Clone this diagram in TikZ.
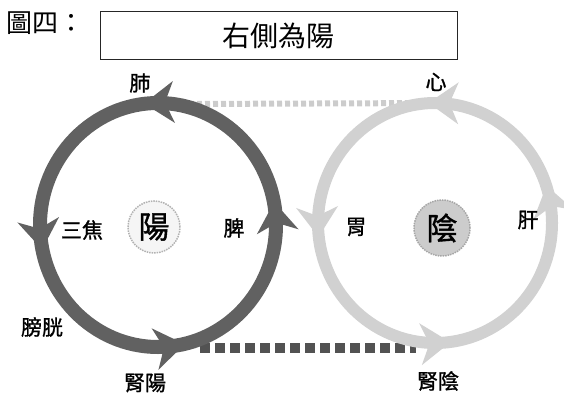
\documentclass[tikz,border=0pt]{standalone}
\usepackage{fontspec}
\newfontfamily\cjk{Noto Sans CJK TC}
\newfontfamily\cjkb{Noto Sans CJK TC}[FakeBold=1.2]
\usetikzlibrary{positioning, calc, arrows.meta, decorations.markings}
\tikzset{>=latex}
\tikzset{ringtip/.pic={\path[pic actions] (8,0) -- (-22,21) -- (-13,0) -- (-22,-21) -- cycle;}}

\begin{document}
\begin{tikzpicture}
    [
        x=1pt, y=1pt,
        organ/.style={font=\cjkb\fontsize{21}{21}\selectfont, inner sep=0pt},
        core/.style={circle, font=\cjkb\fontsize{31}{31}\selectfont, inner sep=0pt, minimum size=52pt},
        title_box/.style={draw=black!85, line width=1pt, minimum width=357pt, minimum height=48pt, font=\cjk\fontsize{28}{28}\selectfont},
        yang_tip/.style={fill=black!62, transform shape},
        yin_tip/.style={fill=black!18, transform shape},
        yang_ring/.style={line width=14pt, draw=black!62, postaction={decorate},
            decoration={markings,
                mark=at position 0.02 with {\pic[yang_tip]{ringtip};},
                mark=at position 0.258 with {\pic[yang_tip]{ringtip};},
                mark=at position 0.522 with {\pic[yang_tip]{ringtip};},
                mark=at position 0.775 with {\pic[yang_tip]{ringtip};}}},
        yin_ring/.style={line width=12pt, draw=black!18, postaction={decorate},
            decoration={markings,
                mark=at position 0.04 with {\pic[yin_tip]{ringtip};},
                mark=at position 0.248 with {\pic[yin_tip]{ringtip};},
                mark=at position 0.508 with {\pic[yin_tip]{ringtip};},
                mark=at position 0.76 with {\pic[yin_tip]{ringtip};}}},
        top_band/.style={line width=6pt, draw=black!20, dash pattern=on 5pt off 3pt},
        bottom_band/.style={line width=10pt, draw=black!68, dash pattern=on 10pt off 5pt},
    ]
  \useasboundingbox (0,0) rectangle (564,-398);

  % heading
  \node[anchor=west, font=\cjk\fontsize{26}{26}\selectfont, inner sep=0pt] (figno) at (6,-23) {圖四：};
  \node[title_box] (title) at (278.5,-36) {右側為陽};

  % centres of the two cycles
  \coordinate (Lc) at (158,-225);
  \coordinate (Rc) at (435,-223);

  \coordinate (topR) at (442,-103);
  \coordinate (topL) at (186,-104);
  \coordinate (botL) at (200,-348);
  \coordinate (botR) at (416,-348);

  \draw[top_band] (topR) -- (topL);
  \draw[bottom_band] (botL) -- (botR);

  \draw[yin_ring] (Rc) ++(0:117) arc[start angle=0, end angle=360, x radius=117, y radius=120];
  \draw[yang_ring] (Lc) ++(0:118) arc[start angle=0, end angle=360, x radius=118, y radius=122];

  \node[core, draw=black!30, densely dotted, line width=1.5pt, fill=black!4] (yang) at (154,-227) {陽};
  \node[core, draw=black!35, densely dotted, line width=1.5pt, fill=black!20, minimum size=56pt] (yin) at (442,-228) {陰};

  \node[organ] (fei) at (140,-83) {肺};
  \node[organ] (xin) at (436,-82) {心};
  \node[organ] (sanjiao) at (82,-230) {三焦};
  \node[organ] (pi) at (234,-228) {脾};
  \node[organ] (panguang) at (42,-327) {膀胱};
  \node[organ] (shenyang) at (145,-383) {腎陽};
  \node[organ] (wei) at (356,-227) {胃};
  \node[organ] (gan) at (528,-220) {肝};
  \node[organ] (shenyin) at (438,-381) {腎陰};
\end{tikzpicture}
\end{document}
